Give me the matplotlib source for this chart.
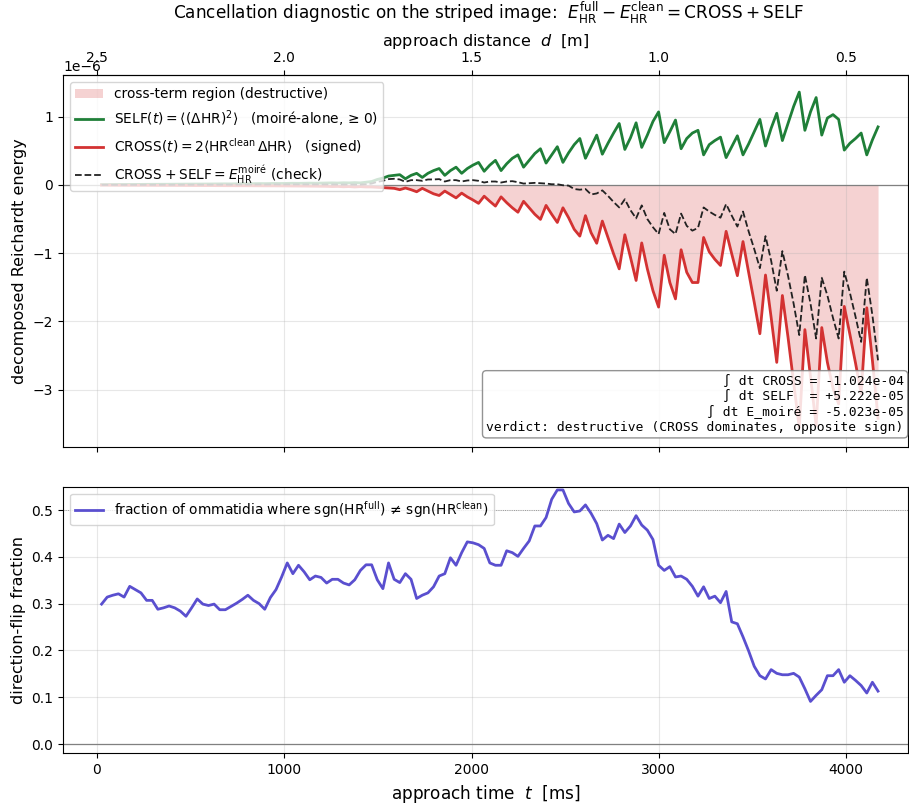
import numpy as np
import matplotlib.pyplot as plt
from matplotlib.lines import Line2D
from matplotlib.patches import Patch

# time axis of the approach (frames, ms)
t_ms = np.linspace(25, 4170, 139)

# SELF term <(dHR)^2>, in units of 1e-6
self_e6 = [
    0.004, 0.005, 0.005, 0.006, 0.006, 0.007, 0.007, 0.008, 0.008, 0.009,
    0.009, 0.010, 0.010, 0.011, 0.011, 0.012, 0.012, 0.013, 0.013, 0.014,
    0.014, 0.015, 0.016, 0.015, 0.017, 0.018, 0.017, 0.019, 0.020, 0.019,
    0.021, 0.022, 0.021, 0.023, 0.024, 0.023, 0.025, 0.026, 0.025, 0.027,
    0.028, 0.030, 0.028, 0.032, 0.030, 0.034,
    0.03, 0.04, 0.05, 0.08, 0.10, 0.13, 0.14, 0.15, 0.09, 0.14,
    0.17, 0.11, 0.17, 0.21, 0.24, 0.14, 0.21, 0.26, 0.17, 0.24,
    0.29, 0.33, 0.20, 0.29, 0.36, 0.21, 0.31, 0.39, 0.44, 0.26,
    0.36, 0.46, 0.53, 0.32, 0.44, 0.56, 0.33, 0.47, 0.59, 0.68,
    0.39, 0.56, 0.73, 0.45, 0.61, 0.76, 0.90, 0.52,
    0.69, 0.91, 0.55, 0.73, 0.93, 1.07, 0.62, 0.78, 0.95, 0.53,
    0.68, 0.76, 0.80, 0.44, 0.59, 0.65, 0.70, 0.40, 0.56, 0.72,
    0.44, 0.60, 0.78, 0.96, 0.57, 0.83, 1.05, 0.65, 0.90, 1.15,
    1.36, 0.80, 1.07, 1.28, 0.73, 0.98, 1.03, 0.96, 0.51, 0.61,
    0.68, 0.76, 0.44, 0.66, 0.85,
]

# CROSS term 2<HR_clean dHR>, in units of 1e-6
cross_e6 = [
    -0.003, -0.004, -0.004, -0.005, -0.005, -0.005, -0.006, -0.006, -0.006, -0.007,
    -0.007, -0.007, -0.008, -0.008, -0.008, -0.009, -0.009, -0.009, -0.010, -0.010,
    -0.010, -0.011, -0.011, -0.011, -0.012, -0.012, -0.012, -0.013, -0.013, -0.013,
    -0.014, -0.014, -0.015, -0.015, -0.016, -0.016, -0.017, -0.018, -0.018, -0.020,
    -0.021, -0.024, -0.022, -0.027, -0.024, -0.030,
    -0.025, -0.03, -0.03, -0.035, -0.04, -0.045, -0.05, -0.07, -0.045, -0.07,
    -0.10, -0.05, -0.09, -0.13, -0.155, -0.09, -0.14, -0.19, -0.12, -0.175,
    -0.22, -0.27, -0.165, -0.24, -0.31, -0.175, -0.26, -0.335, -0.40, -0.24,
    -0.335, -0.43, -0.505, -0.30, -0.43, -0.55, -0.335, -0.48, -0.65, -0.75,
    -0.45, -0.70, -0.855, -0.53, -0.77, -1.01, -1.23, -0.73,
    -1.06, -1.40, -0.85, -1.23, -1.55, -1.79, -1.03, -1.43, -1.67, -0.95,
    -1.28, -1.43, -1.43, -0.77, -0.98, -1.09, -1.18, -0.68, -1.01, -1.33,
    -0.83, -1.28, -1.72, -2.18, -1.32, -1.94, -2.60, -1.62, -2.23, -2.89,
    -3.56, -2.12, -2.81, -3.53, -2.09, -2.60, -2.98, -3.21, -1.78, -2.19,
    -2.61, -3.06, -1.80, -2.57, -3.42,
]

# fraction of ommatidia whose HR sign flips
flip_frac = [
    0.299, 0.314, 0.318, 0.321, 0.314, 0.337, 0.330, 0.323, 0.307, 0.307,
    0.288, 0.291, 0.295, 0.291, 0.284, 0.273, 0.291, 0.310, 0.299, 0.296,
    0.299, 0.287, 0.287, 0.294, 0.301, 0.309, 0.318, 0.307, 0.300, 0.288,
    0.313, 0.330, 0.357, 0.387, 0.364, 0.382, 0.368, 0.351, 0.359, 0.356,
    0.344, 0.352, 0.352, 0.344, 0.340, 0.351, 0.371, 0.383, 0.383, 0.351,
    0.332, 0.387, 0.352, 0.345, 0.364, 0.352, 0.311, 0.318, 0.323, 0.336,
    0.359, 0.364, 0.398, 0.382, 0.409, 0.432, 0.430, 0.426, 0.418, 0.387,
    0.382, 0.382, 0.413, 0.409, 0.401, 0.418, 0.434, 0.466, 0.466, 0.484,
    0.523, 0.543, 0.543, 0.514, 0.496, 0.498, 0.511, 0.493, 0.471, 0.436,
    0.446, 0.439, 0.470, 0.452, 0.466, 0.488, 0.468, 0.457, 0.437, 0.382,
    0.371, 0.379, 0.357, 0.359, 0.352, 0.337, 0.316, 0.336, 0.311, 0.316,
    0.302, 0.326, 0.261, 0.257, 0.229, 0.199, 0.166, 0.146, 0.139, 0.159,
    0.151, 0.148, 0.148, 0.151, 0.143, 0.118, 0.091, 0.104, 0.116, 0.146,
    0.146, 0.159, 0.132, 0.146, 0.136, 0.125, 0.109, 0.132, 0.113,
]

self_term = np.array(self_e6) * 1e-6
cross_term = np.array(cross_e6) * 1e-6
e_moire = cross_term + self_term

C_SELF = "#1f7f38"
C_CROSS = "#d33232"
C_FLIP = "#5a4fcf"

plt.rcParams["font.size"] = 10

fig = plt.figure(figsize=(9.09, 8.06), dpi=100)
ax1 = fig.add_axes([0.0693, 0.4454, 0.9296, 0.4615])
ax2 = fig.add_axes([0.0693, 0.0653, 0.9296, 0.3309], sharex=ax1)

# ----------------------------
# top: CROSS / SELF decomposition
# ----------------------------
ax1.fill_between(t_ms, cross_term, 0, where=cross_term < 0,
                 color=C_CROSS, alpha=0.22, lw=0)
ax1.axhline(0, color="gray", lw=0.9)
ax1.plot(t_ms, self_term, color=C_SELF, lw=2.0)
ax1.plot(t_ms, cross_term, color=C_CROSS, lw=2.0)
ax1.plot(t_ms, e_moire, color="#222222", lw=1.3, ls="--")

handles = [
    Patch(facecolor=C_CROSS, alpha=0.22, lw=0),
    Line2D([], [], color=C_SELF, lw=2.0),
    Line2D([], [], color=C_CROSS, lw=2.0),
    Line2D([], [], color="#222222", lw=1.3, ls="--"),
]
labels = [
    "cross-term region (destructive)",
    r"SELF$(t)=\langle(\Delta\mathrm{HR})^2\rangle$   (moiré-alone, ≥ 0)",
    r"CROSS$(t)=2\langle\mathrm{HR}^{\rm clean}\,\Delta\mathrm{HR}\rangle$   (signed)",
    r"$\mathrm{CROSS}+\mathrm{SELF}=E_{\rm HR}^{\rm moiré}$ (check)",
]
ax1.legend(handles, labels, loc="upper left", fontsize=9.9)

ax1.set_ylim(-3.84e-6, 1.61e-6)
ax1.set_ylabel("decomposed Reichardt energy", fontsize=11.5)
ax1.grid(alpha=0.3)
ax1.tick_params(labelbottom=False)

summary = ("∫ dt CROSS = -1.024e-04\n"
           "∫ dt SELF  = +5.222e-05\n"
           "∫ dt E_moiré = -5.023e-05\n"
           "verdict: destructive (CROSS dominates, opposite sign)")
ax1.text(0.995, 0.035, summary, transform=ax1.transAxes, ha="right", va="bottom",
         family="DejaVu Sans Mono", fontsize=9.4,
         bbox=dict(boxstyle="round,pad=0.3", fc="white", ec="gray", alpha=0.85))

# distance axis on top (0.5 m/s approach from 2.5 m)
secax = ax1.secondary_xaxis("top", functions=(lambda t: 2.5 - t / 2000.0,
                                              lambda d: (2.5 - d) * 2000.0))
secax.set_xticks([2.5, 2.0, 1.5, 1.0, 0.5])
secax.set_xlabel("approach distance  $d$  [m]", fontsize=11.5)

fig.text(0.537, 0.984,
         r"Cancellation diagnostic on the striped image:  "
         r"$E_{\rm HR}^{\rm full}-E_{\rm HR}^{\rm clean}=\mathrm{CROSS}+\mathrm{SELF}$",
         ha="center", va="center", fontsize=12.2)

# ----------------------------
# bottom: sign-flip fraction
# ----------------------------
ax2.axhline(0, color="gray", lw=0.9)
ax2.axhline(0.5, color="gray", lw=0.6, ls=":")
ax2.plot(t_ms, flip_frac, color=C_FLIP, lw=2.0,
         label=r"fraction of ommatidia where sgn(HR$^{\rm full}$)$\,\neq\,$sgn(HR$^{\rm clean}$)")
ax2.legend(loc="upper left", fontsize=9.9)
ax2.set_ylim(-0.02, 0.55)
ax2.set_xlim(-181, 4330)
ax2.set_ylabel("direction-flip fraction", fontsize=11.5)
ax2.set_xlabel("approach time  $t$  [ms]", fontsize=12.2)
ax2.grid(alpha=0.3)

fig.savefig("out.png", dpi=100)
